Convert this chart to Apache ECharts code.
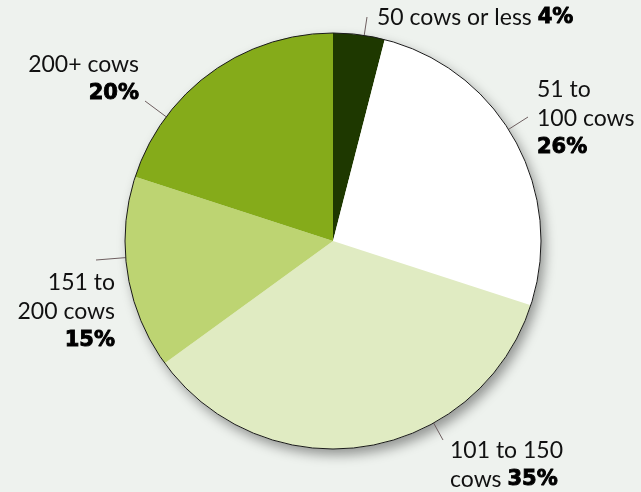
<!DOCTYPE html>
<html>
<head>
<meta charset="utf-8">
<script src="https://cdn.jsdelivr.net/npm/echarts@6/dist/echarts.min.js"></script>
<style>
html,body{margin:0;padding:0;background:#eef2ee;}
#c{width:641px;height:492px;}
</style>
</head>
<body>
<div id="c"></div>
<script>
// Data
const categories = ['50 cows or less', '51 to\n100 cows', '101 to 150\ncows', '151 to\n200 cows', '200+ cows'];
const values = [4, 26, 35, 15, 20];
const percentSeparators = [' ', '\n', ' ', '\n', '\n'];
const colors = ['#1e3800', '#ffffff', '#e0ebc2', '#bdd472', '#85ab1a'];

// Layout (presentation only)
const CX = 333, CY = 241, R = 208;
const labelPlaces = [
  {x: 377, y: 18, align: 'left', ax: 367, ay: 17},
  {x: 537, y: 119, align: 'left', ax: 528, ay: 117},
  {x: 450, y: 465, align: 'left', ax: 443, ay: 440},
  {x: 115, y: 312, align: 'right', ax: 96, ay: 260},
  {x: 139, y: 79, align: 'right', ax: 145, ay: 101}
];

const chart = echarts.init(document.getElementById('c'));
const data = categories.map((c, i) => ({
  name: c,
  value: values[i],
  itemStyle: {color: colors[i]},
  label: {align: labelPlaces[i].align}
}));

chart.setOption({
  backgroundColor: '#eef2ee',
  animation: false,
  series: [
    {
      type: 'pie', silent: true, z: 1,
      center: [CX, CY], radius: R,
      data: [{value: 1}],
      label: {show: false}, labelLine: {show: false},
      itemStyle: {color: '#ffffff', shadowBlur: 12, shadowColor: 'rgba(0,0,0,0.38)', shadowOffsetX: 4, shadowOffsetY: 6}
    },
    {
      type: 'pie', silent: true, z: 2,
      center: [CX, CY], radius: R,
      startAngle: 90, clockwise: true,
      avoidLabelOverlap: false,
      data: data,
      itemStyle: {borderWidth: 0},
      label: {
        show: true, position: 'outside',
        formatter: p => '{t|' + p.name + percentSeparators[p.dataIndex] + '}{b|' + p.value + '%}',
        rich: {
          t: {fontFamily: 'Lato', fontSize: 23, fontWeight: 400, color: '#111111', lineHeight: 29},
          b: {fontFamily: 'DejaVu Sans', fontSize: 21, fontWeight: 'bold', color: '#000000', lineHeight: 29,
              textBorderColor: '#000000', textBorderWidth: 0.9}
        }
      },
      labelLine: {show: true, length: 10, length2: 0, lineStyle: {color: '#6e5f60', width: 1}},
      labelLayout: function (params) {
        const p = labelPlaces[params.dataIndex];
        const dx = p.ax - CX, dy = p.ay - CY;
        const d = Math.sqrt(dx * dx + dy * dy);
        const inner = [CX + R * dx / d, CY + R * dy / d];
        return {
          x: p.x, y: p.y, align: p.align, verticalAlign: 'middle',
          labelLinePoints: [inner, [p.ax, p.ay]]
        };
      }
    },
    {
      type: 'pie', silent: true, z: 3,
      center: [CX, CY], radius: R,
      data: [{value: 1}],
      label: {show: false}, labelLine: {show: false},
      itemStyle: {color: 'rgba(0,0,0,0)', borderColor: '#1a1a1a', borderWidth: 1}
    }
  ]
});
</script>
</body>
</html>
